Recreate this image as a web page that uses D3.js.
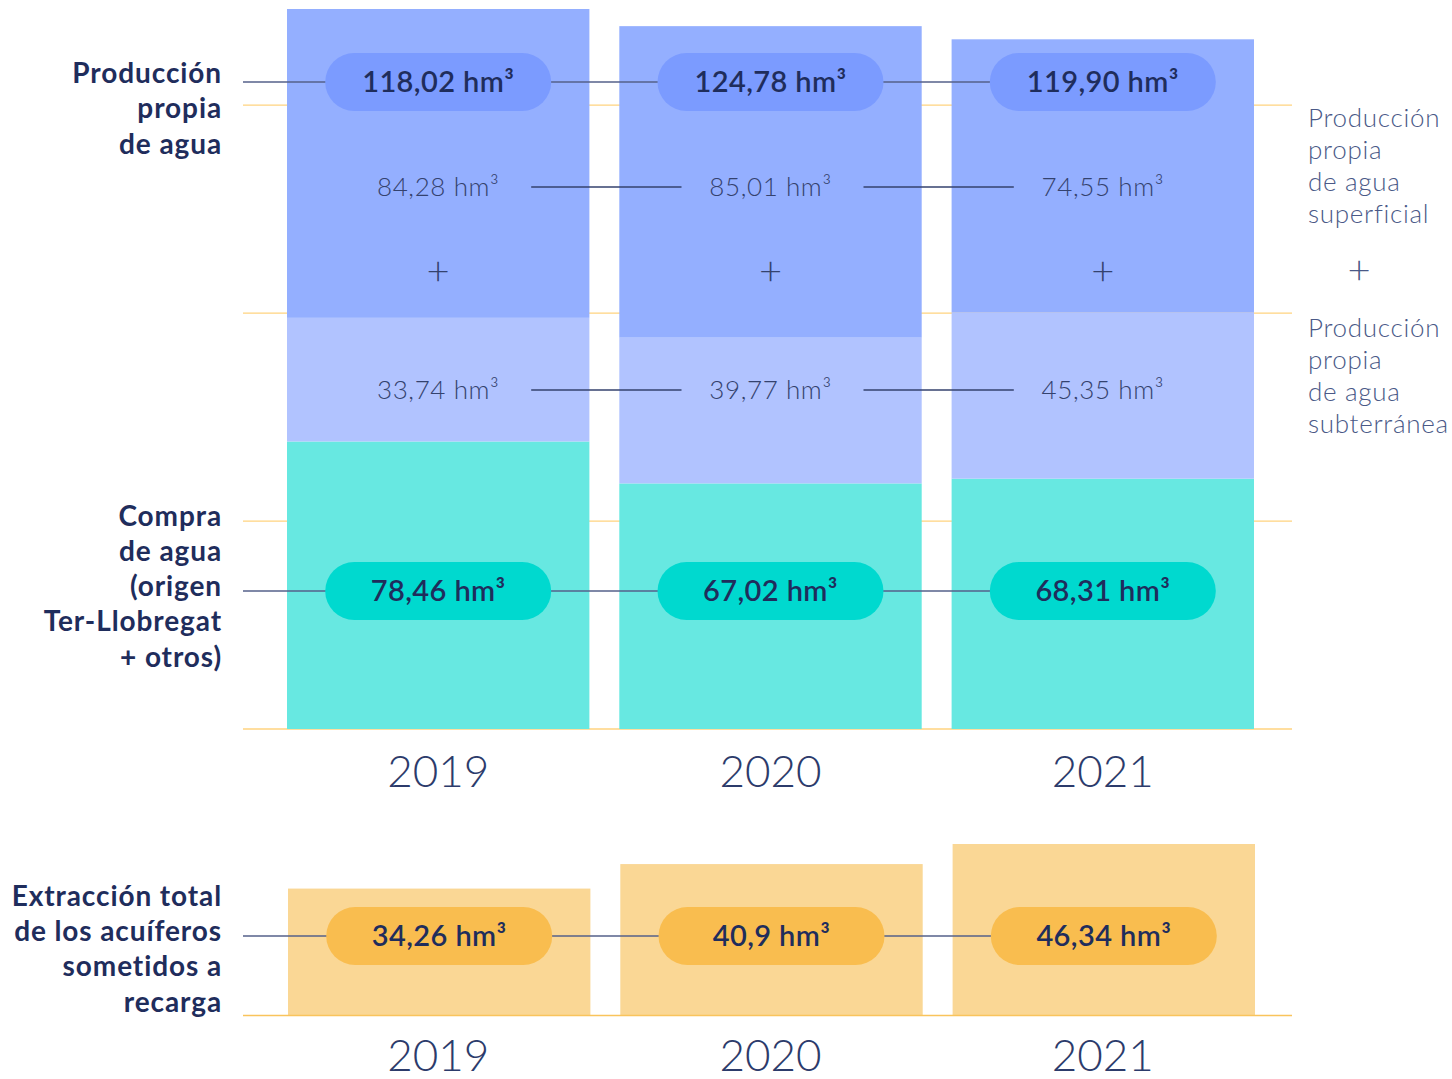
<!DOCTYPE html>
<html><head><meta charset="utf-8">
<script src="https://cdn.jsdelivr.net/npm/d3@7"></script>
<style>
body{margin:0;background:#fff;}
svg{display:block;font-family:Lato,"Noto Sans",sans-serif;}
</style></head>
<body><svg id="c" width="1452" height="1079"></svg>
<script>
// ---- data ----
const years = ["2019","2020","2021"];
const compra = [78.46, 67.02, 68.31];
const subterranea = [33.74, 39.77, 45.35];
const superficial = [84.28, 85.01, 74.55];
const produccion = [118.02, 124.78, 119.90];
const extraccion = [34.26, 40.9, 46.34];
const gridTicks = [0, 56.75, 113.5, 170.25];
const fmt = v => v.toFixed(2).replace(".", ",");
const fmtBottom = ["34,26","40,9","46,34"];

// ---- layout ----
const navy = "#1f2d5c";
const svg = d3.select("#c");
const x = d3.scaleBand().domain(years).range([287, 1254]).paddingInner(0.09).paddingOuter(0);
const totals = years.map((_, i) => compra[i] + subterranea[i] + superficial[i]);
const y = d3.scaleLinear().domain([0, d3.max(totals)]).range([729, 9]);
const yb = d3.scaleLinear().domain([0, d3.max(extraccion)]).range([1015, 844]);
const cx = d => x(d) + x.bandwidth() / 2;

// gridlines
svg.append("g").selectAll("line").data(gridTicks).join("line")
  .attr("x1", 243).attr("x2", 1292)
  .attr("y1", d => y(d)).attr("y2", d => y(d))
  .attr("stroke", "#ffd37f").attr("stroke-width", 1.3);

// stacked bars
const stackData = years.map((yr, i) => ({year: yr, compra: compra[i], sub: subterranea[i], sup: superficial[i]}));
const stack = d3.stack().keys(["compra", "sub", "sup"])(stackData);
const colors = {compra: "#67e8e1", sub: "#b1c3ff", sup: "#94afff"};
svg.append("g").selectAll("g").data(stack).join("g")
  .attr("fill", d => colors[d.key])
  .selectAll("rect").data(d => d).join("rect")
  .attr("x", d => x(d.data.year)).attr("width", x.bandwidth())
  .attr("y", d => y(d[1])).attr("height", d => y(d[0]) - y(d[1]));

// bottom chart
svg.append("g").selectAll("rect").data(years).join("rect")
  .attr("x", d => x(d) + 1).attr("width", x.bandwidth())
  .attr("y", (d, i) => yb(extraccion[i])).attr("height", (d, i) => yb(0) - yb(extraccion[i]))
  .attr("fill", "#fad795");
svg.append("line").attr("x1", 243).attr("x2", 1292).attr("y1", yb(0) + 0.5).attr("y2", yb(0) + 0.5)
  .attr("stroke", "#f9c45c").attr("stroke-width", 1.5);

// connector lines + pills
function pillRow(rowY, labels, fill, dx) {
  const g = svg.append("g");
  g.append("line").attr("x1", 243).attr("x2", cx(years[years.length - 1]) + dx)
    .attr("y1", rowY).attr("y2", rowY).attr("stroke", "#55618a").attr("stroke-width", 1.6);
  const p = g.selectAll("g").data(years).join("g")
    .attr("transform", d => `translate(${cx(d) + dx},${rowY})`);
  p.append("rect").attr("x", -113).attr("y", -29).attr("width", 226).attr("height", 58)
    .attr("rx", 29).attr("fill", fill);
  p.append("text").attr("text-anchor", "middle").attr("dy", "0.35em")
    .attr("font-size", 29).attr("font-weight", 600).attr("letter-spacing", 0.4).attr("fill", navy)
    .text((d, i) => labels[i] + " hm³");
}
pillRow(82, produccion.map(fmt), "#7b9bff", 0);
pillRow(591, compra.map(fmt), "#00d9cf", 0);
pillRow(936, fmtBottom, "#f9bd4f", 1);

// middle value rows
function midRow(rowY, values) {
  const g = svg.append("g");
  g.selectAll("text").data(years).join("text")
    .attr("x", d => cx(d)).attr("y", rowY).attr("dy", "0.35em")
    .attr("text-anchor", "middle").attr("font-size", 26).attr("font-weight", 300)
    .attr("letter-spacing", 0.6)
    .attr("fill", "#34426e").text((d, i) => fmt(values[i]) + " hm³");
  g.selectAll("line").data(years.slice(0, -1)).join("line")
    .attr("x1", d => cx(d) + 93).attr("x2", (d, i) => cx(years[i + 1]) - 89)
    .attr("y1", rowY).attr("y2", rowY).attr("stroke", "#34426e").attr("stroke-width", 1.3);
}
midRow(187, superficial);
midRow(390, subterranea);

// plus signs
svg.append("g").selectAll("text").data(years).join("text")
  .attr("x", d => cx(d)).attr("y", 271).attr("dy", "0.35em").attr("text-anchor", "middle")
  .attr("font-size", 40).attr("font-weight", 300).attr("fill", "#34426e").text("+");

// year labels
[787, 1071].forEach(by => {
  svg.append("g").selectAll("text").data(years).join("text")
    .attr("x", d => cx(d)).attr("y", by).attr("text-anchor", "middle")
    .attr("font-size", 44).attr("font-weight", 300).attr("fill", "#2c3b6b").text(d => d);
});

// left labels
function leftLabel(lines, firstY, lh) {
  svg.append("text").attr("text-anchor", "end").attr("font-size", 28).attr("font-weight", 700)
    .attr("letter-spacing", 0.9).attr("fill", navy)
    .selectAll("tspan").data(lines).join("tspan")
    .attr("x", 222).attr("y", (d, i) => firstY + i * lh).attr("dy", "0.35em").text(d => d);
}
leftLabel(["Producción", "propia", "de agua"], 73, 35.5);
leftLabel(["Compra", "de agua", "(origen", "Ter-Llobregat", "+ otros)"], 516, 35.2);
leftLabel(["Extracción total", "de los acuíferos", "sometidos a", "recarga"], 896, 35.3);

// right labels
function rightLabel(lines, firstY) {
  svg.append("text").attr("font-size", 26).attr("font-weight", 300).attr("letter-spacing", 0.7)
    .attr("fill", "#4a5987")
    .selectAll("tspan").data(lines).join("tspan")
    .attr("x", 1308).attr("y", (d, i) => firstY + i * 32).attr("dy", "0.35em").text(d => d);
}
rightLabel(["Producción", "propia", "de agua", "superficial"], 118);
svg.append("text").attr("x", 1359).attr("y", 270).attr("dy", "0.35em").attr("text-anchor", "middle")
  .attr("font-size", 40).attr("font-weight", 300).attr("fill", "#4a5987").text("+");
rightLabel(["Producción", "propia", "de agua", "subterránea"], 328);
</script></body></html>
